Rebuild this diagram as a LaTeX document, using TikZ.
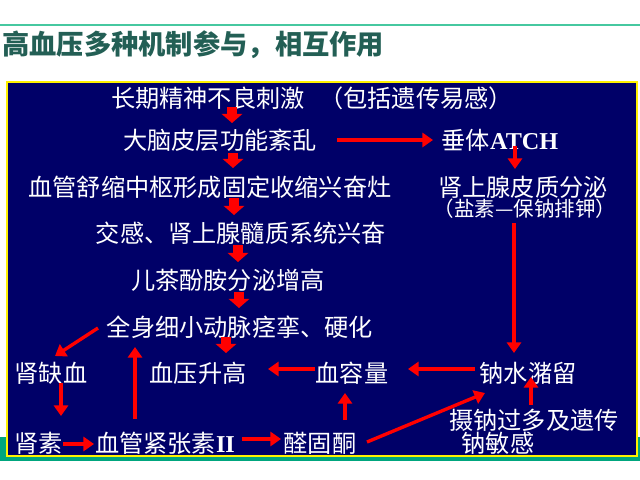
\documentclass[tikz,border=0pt]{standalone}
\usepackage{fontspec}
\setmainfont{Liberation Serif}
\newfontfamily\cjk{Noto Sans CJK SC}
\usetikzlibrary{arrows.meta,calc}

\definecolor{navy}{RGB}{0,0,104}
\definecolor{bandgreen}{RGB}{0,166,126}
\definecolor{rulegreen}{RGB}{70,200,160}
\definecolor{titlecol}{RGB}{35,95,85}

\tikzset{
  txt/.style={text=white, inner sep=0pt, font=\cjk\fontsize{17.2}{20}\selectfont},
  smalltxt/.style={text=white, inner sep=0pt, font=\cjk\fontsize{14.6}{16}\selectfont},
  arr/.style={draw=red, line width=2.4pt, -{Triangle[length=7.5pt,width=10pt]}},
  fat/.style={draw=red, line width=7pt, -{Triangle[length=6.5pt,width=14.5pt]}},
}

\begin{document}
\begin{tikzpicture}[x=0.025cm, y=-0.025cm]
\useasboundingbox (0,0) rectangle (640,480);

\def\xleft{51};
\def\xmid{228};
\def\xright{525};

% frame
\draw[rulegreen, line width=1pt] (0,25) -- (640,25);
\fill[bandgreen] (0,437) rectangle (640,461);
\filldraw[fill=navy, draw=yellow, line width=1.5pt] (7,82) rectangle (637,456);

\node[anchor=west, inner sep=0pt, text=titlecol, font=\cjk\bfseries\fontsize{19.4}{22}\selectfont] (title) at (2,45) {高血压多种机制参与，相互作用};

% left column
\node[txt] (stim) at (312,98) {长期精神不良刺激\hspace{0.6em}（包括遗传易感）};
\node[txt] (cortex) at (220,140) {大脑皮层功能紊乱};
\node[txt] (center) at (210,187) {血管舒缩中枢形成固定收缩兴奋灶};
\node[txt] (symp) at (241,233) {交感、肾上腺髓质系统兴奋};
\node[txt] (cat) at (\xmid,280) {儿茶酚胺分泌增高};
\node[txt] (spasm) at (240,327) {全身细小动脉痉挛、硬化};

% right column
\node[txt] (pit) at (500,140) {垂体{\rmfamily\bfseries ATCH}};
\node[txt] (adr) at (523,187) {肾上腺皮质分泌};
\node[smalltxt] (salt) at (\xright,209) {（盐素—保钠排钾）};

% bottom rows
\node[txt] (isch) at (\xleft,373) {肾缺血};
\node[txt] (bp) at (198,373) {血压升高};
\node[txt] (vol) at (352,373) {血容量};
\node[txt] (na) at (528,373) {钠水潴留};
\node[txt] (renin) at (39,443) {肾素};
\node[txt] (ang) at (165,443) {血管紧张素{\rmfamily\bfseries II}};
\node[txt] (ald) at (320,443) {醛固酮};
\node[txt] (intake) at (534,420) {摄钠过多及遗传};
\node[txt] (sens) at (498,443) {钠敏感};

% main chain
\draw[fat] ($(stim)+(-80,9)$) -- ($(cortex)+(12,-17)$);
\draw[fat] ($(cortex)+(13,13)$) -- ($(center)+(23,-19)$);
\draw[fat] ($(center)+(24,11)$) -- ($(symp)+(-7,-18)$);
\draw[fat] ($(symp)+(-3,12)$) -- ($(cat)+(10,-18)$);
\draw[fat] ($(cat)+(11,12)$) -- ($(spasm)+(-1,-19)$);
\draw[fat] ($(spasm)+(-14,10)$) -- ($(bp)+(28,-20)$);

% side paths
\draw[arr] ($(cortex)+(117,0)$) -- ($(pit)+(-67,0)$);
\draw[arr] ($(pit)+(15,6)$) -- ($(adr)+(-8,-18)$);
\draw[arr] ($(salt)+(-11,14)$) -- ($(na)+(-14,-20)$);
\draw[arr] ($(spasm)+(-142,1)$) -- ($(isch)+(4,-17)$);
\draw[arr] ($(isch)+(10,10)$) -- ($(renin)+(22,-27)$);
\draw[arr] ($(renin)+(24,1)$) -- ($(ang)+(-71,1)$);
\draw[arr] ($(ang)+(-30,-24)$) -- ($(spasm)+(-105,20)$);
\draw[arr] ($(ang)+(77,-4)$) -- ($(ald)+(-39,-4)$);
\draw[arr] ($(ald)+(25,-23)$) -- ($(vol)+(-7,20)$);
\draw[arr] ($(vol)+(-37,-4)$) -- ($(bp)+(70,-4)$);
\draw[arr] ($(na)+(-53,-4)$) -- ($(vol)+(56,-4)$);
\draw[arr] ($(ald)+(47,-1)$) -- ($(na)+(-43,20)$);
\draw[arr] ($(intake)+(-3,-15)$) -- ($(na)+(3,4)$);

\end{tikzpicture}
\end{document}
